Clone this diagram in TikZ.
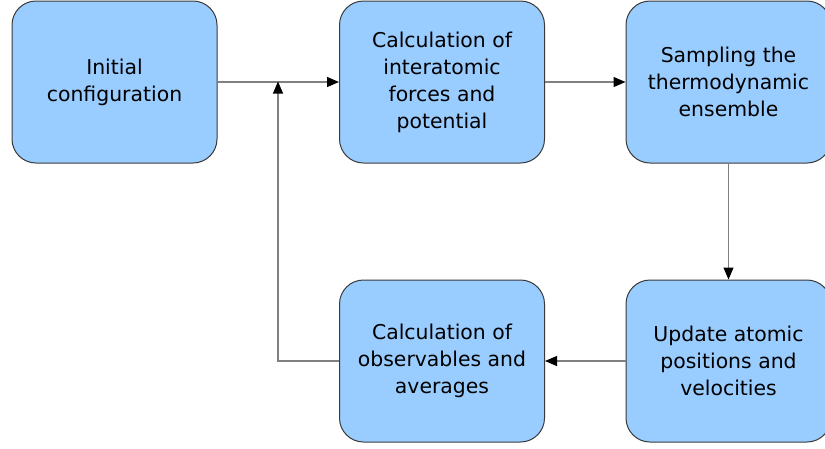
\documentclass[tikz,border=0pt]{standalone}
\usepackage{fontspec}
\setmainfont{DejaVu Sans}
\usetikzlibrary{arrows.meta}
\definecolor{boxfill}{HTML}{99CCFF}
\definecolor{boxline}{HTML}{3A3A3A}
\definecolor{conn}{HTML}{808080}
\begin{document}
\begin{tikzpicture}[x=1pt,y=-1pt,
  stepbox/.style={draw=boxline, line width=1pt, fill=boxfill, rounded corners=24pt,
    minimum width=205pt, minimum height=162pt, align=center, inner sep=0pt,
    font=\fontsize{20.4}{27}\selectfont},
  conn/.style={draw=conn, line width=1.1pt},
  tip/.style={-{Triangle[length=12pt,width=10pt,fill=black,color=black]}}]
\useasboundingbox (0,0) rectangle (825,448);
\clip (0,0) rectangle (825,448);
\node[stepbox] (init) at (114.5,82) {Initial\\configuration};
\node[stepbox] (forces) at (442,82) {Calculation of\\interatomic\\forces and\\potential};
\node[stepbox] (sample) at (728.5,82) {Sampling the\\thermodynamic\\ensemble};
\node[stepbox] (update) at (728.5,361) {Update atomic\\positions and\\velocities};
\node[stepbox] (obs) at (442,361) {Calculation of\\observables and\\averages};
\coordinate (join) at (278,82);
\draw[conn,tip] (init.east) -- (forces.west);
\draw[conn,tip] (forces.east) -- (sample.west);
\draw[conn,tip] (sample.south) -- (update.north);
\draw[conn,tip] (update.west) -- (obs.east);
\draw[conn,tip] (obs.west) -| ([yshift=0.5pt]join);
\end{tikzpicture}
\end{document}
